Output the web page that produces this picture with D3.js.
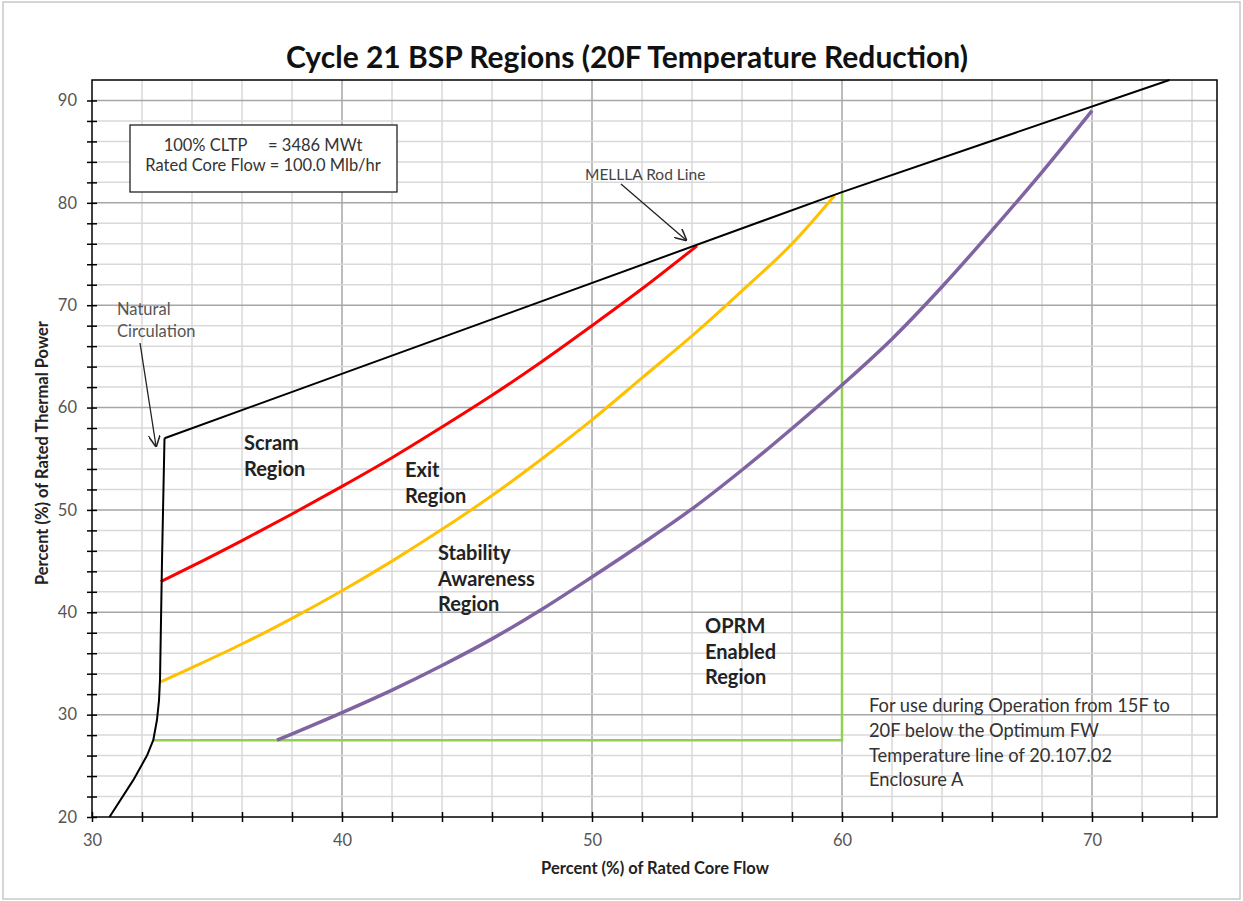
<!DOCTYPE html>
<html>
<head>
<meta charset="utf-8">
<script src="https://cdn.jsdelivr.net/npm/d3@7"></script>
<style>
  body { margin: 0; background: #fff; }
  svg text { font-family: Lato, "Open Sans", sans-serif; }
</style>
</head>
<body>
<div id="chart"></div>
<script>
// natural circulation boundary + MELLLA rod line
const naturalCirc = [[30.7,20],[31.65,23.6],[32.2,26],[32.45,27.5],[32.6,29.5],[32.68,31.4],[32.72,33.4],[32.8,45],[32.9,57]];
const rodLine = [[32.9,57],[60,81.05],[73.1,92]];
// region boundaries
const scramLine = [[32.75,43],[34,44.5],[36,47],[38,49.6],[40,52.3],[42,55.1],[44,58.1],
  [46,61.2],[48,64.5],[50,68],[52,71.6],[54.2,75.8]];
const exitLine = [[32.75,33.2],[34,34.6],[36,36.9],[38,39.4],[40,42.1],[42,45],[44,48.1],[46,51.4],
  [48,55],[50,58.8],[52,62.9],[54,67],[56,71.4],[58,76],[59.7,80.7]];
const awarenessLine = [[37.4,27.5],[40,30.2],[42,32.4],[44,34.8],[46,37.4],[48,40.3],[50,43.45],[52,46.7],
  [54,50.1],[56,53.9],[58,57.95],[60,62.2],[62,66.7],[64,71.8],[66,77.3],[68,83],[70,89]];
const oprmLine = [[32.45,27.5],[60,27.5],[60,81]];

const xTicks = [30, 40, 50, 60, 70];
const yTicks = [20, 30, 40, 50, 60, 70, 80, 90];

const W = 1243, H = 901;
const svg = d3.select("#chart").append("svg")
    .attr("width", W)
    .attr("height", H);

svg.append("rect")
    .attr("x", 3).attr("y", 2).attr("width", W - 6).attr("height", H - 4)
    .attr("fill", "#fff").attr("stroke", "#c8c8c8").attr("stroke-width", 1.5);

const x = d3.scaleLinear().domain([30, 75]).range([92, 1217]);
const y = d3.scaleLinear().domain([20, 92]).range([817, 80]);

// grid
const g = svg.append("g");
d3.range(32, 75, 2).forEach(v => {
    g.append("line")
        .attr("x1", x(v)).attr("x2", x(v)).attr("y1", y(20)).attr("y2", y(92))
        .attr("stroke", v % 10 === 0 ? "#a6a6a6" : "#d9d9d9").attr("stroke-width", 1.5);
});
d3.range(22, 92, 2).forEach(v => {
    g.append("line")
        .attr("x1", x(30)).attr("x2", x(75)).attr("y1", y(v)).attr("y2", y(v))
        .attr("stroke", v % 10 === 0 ? "#a6a6a6" : "#d9d9d9").attr("stroke-width", 1.5);
});

// frame
svg.append("rect")
    .attr("x", x(30)).attr("y", y(92))
    .attr("width", x(75) - x(30)).attr("height", y(20) - y(92))
    .attr("fill", "none").attr("stroke", "#000").attr("stroke-width", 1.5);

// axes
const xAxis = d3.axisBottom(x).tickValues(d3.range(30, 75, 2)).tickSize(5)
    .tickFormat(d => xTicks.includes(d) ? d : "");
const gx = svg.append("g").attr("transform", `translate(0,${y(20)})`).call(xAxis);
gx.selectAll(".tick line").attr("y1", -5).attr("y2", 5).attr("stroke-width", 1.5);
gx.selectAll("text").attr("y", 17).attr("font-size", 16.5).attr("fill", "#555");
gx.select(".domain").remove();

const yAxis = d3.axisLeft(y).tickValues(d3.range(20, 92, 2)).tickSize(5)
    .tickFormat(d => yTicks.includes(d) ? d : "");
const gy = svg.append("g").attr("transform", `translate(${x(30)},0)`).call(yAxis);
gy.selectAll(".tick line").attr("x1", -5).attr("x2", 5).attr("stroke-width", 1.5);
gy.selectAll("text").attr("x", -15).attr("font-size", 16.5).attr("fill", "#555");
gy.select(".domain").remove();

// curves
const smooth = d3.line().x(d => x(d[0])).y(d => y(d[1])).curve(d3.curveMonotoneX);
const straight = d3.line().x(d => x(d[0])).y(d => y(d[1]));

svg.append("path").attr("d", straight(oprmLine))
    .attr("fill", "none").attr("stroke", "#92d050").attr("stroke-width", 2.5);
svg.append("path").attr("d", smooth(awarenessLine))
    .attr("fill", "none").attr("stroke", "#8064a2").attr("stroke-width", 3.5);
svg.append("path").attr("d", smooth(exitLine))
    .attr("fill", "none").attr("stroke", "#ffc000").attr("stroke-width", 3);
svg.append("path").attr("d", smooth(scramLine))
    .attr("fill", "none").attr("stroke", "#ff0000").attr("stroke-width", 3);
svg.append("path").attr("d", straight(naturalCirc))
    .attr("fill", "none").attr("stroke", "#000").attr("stroke-width", 2).attr("stroke-linejoin", "round");
svg.append("path").attr("d", straight(rodLine))
    .attr("fill", "none").attr("stroke", "#000").attr("stroke-width", 2).attr("stroke-linejoin", "round");

// arrows
const defs = svg.append("defs");
defs.append("marker").attr("id", "arr")
    .attr("viewBox", "0 0 10 10").attr("refX", 9).attr("refY", 5)
    .attr("markerWidth", 12).attr("markerHeight", 12).attr("markerUnits", "userSpaceOnUse")
    .attr("orient", "auto")
    .append("path").attr("d", "M0,0 L10,5 L0,10").attr("fill", "none").attr("stroke", "#222").attr("stroke-width", 1.3);

svg.append("line").attr("x1", 140).attr("y1", 343).attr("x2", 156).attr("y2", 446)
    .attr("stroke", "#222").attr("stroke-width", 1.3).attr("marker-end", "url(#arr)");
svg.append("line").attr("x1", 621).attr("y1", 184).attr("x2", 686).attr("y2", 240)
    .attr("stroke", "#222").attr("stroke-width", 1.3).attr("marker-end", "url(#arr)");

// text annotations
svg.append("text").attr("x", 627).attr("y", 68).attr("text-anchor", "middle")
    .attr("font-size", 30).attr("font-weight", "bold").attr("fill", "#111")
    .text("Cycle 21 BSP Regions (20F Temperature Reduction)");

svg.append("text").attr("transform", "translate(48,453) rotate(-90)").attr("text-anchor", "middle")
    .attr("font-size", 16.5).attr("font-weight", "bold").attr("fill", "#222")
    .text("Percent (%) of Rated Thermal Power");
svg.append("text").attr("x", 655).attr("y", 874).attr("text-anchor", "middle")
    .attr("font-size", 16.5).attr("font-weight", "bold").attr("fill", "#222")
    .text("Percent (%) of Rated Core Flow");

svg.append("rect").attr("x", 130).attr("y", 125).attr("width", 267).attr("height", 67)
    .attr("fill", "#fff").attr("stroke", "#222").attr("stroke-width", 1.3);
svg.append("text").attr("x", 263).attr("y", 151).attr("text-anchor", "middle")
    .attr("font-size", 16.5).attr("fill", "#333").attr("xml:space", "preserve")
    .text("100% CLTP     = 3486 MWt");
svg.append("text").attr("x", 263).attr("y", 171).attr("text-anchor", "middle")
    .attr("font-size", 16.5).attr("fill", "#333")
    .text("Rated Core Flow = 100.0 Mlb/hr");

svg.append("text").attr("x", 117).attr("y", 315).attr("font-size", 16.5).attr("fill", "#555").text("Natural");
svg.append("text").attr("x", 117).attr("y", 337).attr("font-size", 16.5).attr("fill", "#555").text("Circulation");
svg.append("text").attr("x", 585).attr("y", 180).attr("font-size", 15.5).attr("fill", "#444").text("MELLLA Rod Line");

const regionLabels = [
    { x: 244, y: 450, lines: ["Scram", "Region"] },
    { x: 405, y: 477, lines: ["Exit", "Region"] },
    { x: 438, y: 560, lines: ["Stability", "Awareness", "Region"] },
    { x: 705, y: 633, lines: ["OPRM", "Enabled", "Region"] }
];
regionLabels.forEach(r => {
    r.lines.forEach((t, i) => {
        svg.append("text").attr("x", r.x).attr("y", r.y + i * 25.5)
            .attr("font-size", 20).attr("font-weight", "bold").attr("fill", "#222").text(t);
    });
});

const note = ["For use during Operation from 15F to", "20F below the Optimum FW",
    "Temperature line of 20.107.02", "Enclosure A"];
note.forEach((t, i) => {
    svg.append("text").attr("x", 869).attr("y", 712 + i * 24.8)
        .attr("font-size", 18.3).attr("fill", "#333").text(t);
});
</script>
</body>
</html>
